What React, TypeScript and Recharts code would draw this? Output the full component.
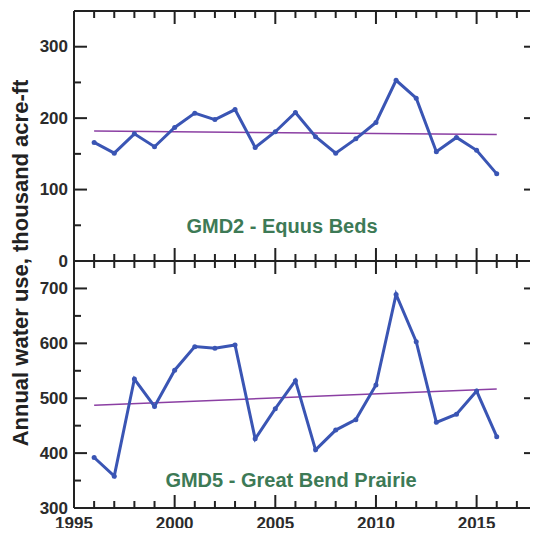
import React from 'react'
import { LineChart, Line, XAxis, YAxis, ReferenceLine } from 'recharts'

const years = [1996, 1997, 1998, 1999, 2000, 2001, 2002, 2003, 2004, 2005, 2006, 2007, 2008, 2009, 2010, 2011, 2012, 2013, 2014, 2015, 2016]
const gmd2Use = [166, 151, 178, 160, 187, 207, 198, 212, 159, 181, 208, 174, 151, 171, 194, 253, 228, 153, 173, 155, 122]
const gmd5Use = [392, 358, 535, 485, 551, 594, 591, 597, 426, 481, 532, 406, 442, 461, 524, 689, 603, 456, 471, 513, 430]
// trend line end points (1996, 2016)
const gmd2Trend = [182, 177]
const gmd5Trend = [487, 517]

const yearTicks = [1995, 1996, 1997, 1998, 1999, 2000, 2001, 2002, 2003, 2004, 2005, 2006, 2007, 2008, 2009, 2010, 2011, 2012, 2013, 2014, 2015, 2016, 2017, 2018]
const gmd2Ticks = [0, 50, 100, 150, 200, 250, 300, 350]
const gmd5Ticks = [300, 350, 400, 450, 500, 550, 600, 650, 700, 750]

const FONT = '"Liberation Sans", Arial, sans-serif'
const AXIS = '#222'
const BLUE = '#3a55b4'
const PURPLE = '#8b3fa3'
const GREEN = '#3d7a56'

const X_DOMAIN: [number, number] = [1995, 2018]
const CHART_W = 538
const PLOT_W = CHART_W - 74 - 1

const buildRows = (use: number[], trend: number[]) =>
  years.map((y, i) => ({
    year: y,
    use: use[i],
    trend: i === 0 ? trend[0] : i === years.length - 1 ? trend[1] : null,
  }))

const tickLen = (major: boolean) => (major ? 13 : 7)

// inward tick marks on all four sides, as segments in data units
const frameTicks = (domain: [number, number], ticks: number[], plotH: number) => {
  const xPer = (X_DOMAIN[1] - X_DOMAIN[0]) / PLOT_W
  const yPer = (domain[1] - domain[0]) / plotH
  const segs: { x: number; y: number }[][] = []
  ticks.forEach((t) => {
    if (t === domain[0] || t === domain[1]) return
    const len = tickLen(t % 100 === 0)
    segs.push([{ x: X_DOMAIN[0], y: t }, { x: X_DOMAIN[0] + len * xPer, y: t }])
    segs.push([{ x: X_DOMAIN[1] - len * xPer, y: t }, { x: X_DOMAIN[1], y: t }])
  })
  yearTicks.forEach((yr) => {
    if (yr === X_DOMAIN[0] || yr === X_DOMAIN[1]) return
    const len = tickLen(yr % 5 === 0)
    segs.push([{ x: yr, y: domain[1] }, { x: yr, y: domain[1] - len * yPer }])
    segs.push([{ x: yr, y: domain[0] }, { x: yr, y: domain[0] + len * yPer }])
  })
  return segs
}

const LeftLabel = (props: any) => {
  const v = props.payload.value
  if (v % 100 !== 0) return <g />
  return (
    <text x={props.x} y={props.y} textAnchor="end" dominantBaseline="central" fontFamily={FONT} fontWeight="bold" fontSize={17} fill="#2b2b2b">
      {v}
    </text>
  )
}

const YearLabel = (props: any) => {
  const v = props.payload.value
  if (v % 5 !== 0 || v > 2015) return <g />
  return (
    <text x={props.x} y={Number(props.y) + 15} textAnchor="middle" dominantBaseline="central" fontFamily={FONT} fontWeight="bold" fontSize={17} fill="#2b2b2b">
      {v}
    </text>
  )
}

interface PanelProps {
  rows: any[]
  domain: [number, number]
  ticks: number[]
  height: number
  marginTop: number
  xHeight: number
  plotH: number
  showYears: boolean
}

function Panel({ rows, domain, ticks, height, marginTop, xHeight, plotH, showYears }: PanelProps) {
  const segs = frameTicks(domain, ticks, plotH)
  return (
    <LineChart width={CHART_W} height={height} data={rows} margin={{ top: marginTop, right: 0, bottom: 0, left: 0 }}>
      <XAxis xAxisId="b" dataKey="year" type="number" domain={X_DOMAIN} ticks={yearTicks} interval={0}
        allowDataOverflow height={xHeight} tickLine={false} tickSize={0} tickMargin={0}
        tick={showYears ? YearLabel : false} axisLine={{ stroke: AXIS, strokeWidth: 2 }} />
      <XAxis xAxisId="t" orientation="top" dataKey="year" type="number" domain={X_DOMAIN} ticks={yearTicks} interval={0}
        allowDataOverflow height={1} tickLine={false} tick={false} axisLine={{ stroke: AXIS, strokeWidth: 2 }} />
      <YAxis yAxisId="l" type="number" domain={domain} ticks={ticks} interval={0} allowDataOverflow width={74}
        tickLine={false} tickSize={0} tickMargin={6} tick={LeftLabel} axisLine={{ stroke: AXIS, strokeWidth: 2 }} />
      <YAxis yAxisId="r" orientation="right" type="number" domain={domain} ticks={ticks} interval={0} allowDataOverflow width={1}
        tickLine={false} tick={false} axisLine={{ stroke: AXIS, strokeWidth: 2 }} />
      {segs.map((s, i) => (
        <ReferenceLine key={i} xAxisId="b" yAxisId="l" segment={s} stroke={AXIS} strokeWidth={2} ifOverflow="visible" />
      ))}
      <Line xAxisId="b" yAxisId="l" dataKey="trend" connectNulls stroke={PURPLE} strokeWidth={1.5} dot={false} isAnimationActive={false} />
      <Line xAxisId="b" yAxisId="l" dataKey="use" stroke={BLUE} strokeWidth={3}
        dot={{ r: 2.5, fill: BLUE, stroke: BLUE, strokeWidth: 0 }} isAnimationActive={false} />
    </LineChart>
  )
}

export default function App() {
  return (
    <div style={{ position: 'relative', width: 538, height: 536, overflow: 'hidden', margin: -8 }}>
      <svg width={538} height={536} style={{ position: 'absolute', left: 0, top: 0 }}>
        <text x={20} y={263} transform="rotate(-90 20 263)" textAnchor="middle" dominantBaseline="central"
          fontFamily={FONT} fontWeight="bold" fontSize={22} fill="#222">
          Annual water use, thousand acre-ft
        </text>
        <text x={282} y={226} textAnchor="middle" dominantBaseline="central" fontFamily={FONT} fontWeight="bold" fontSize={20} fill={GREEN}>
          GMD2 - Equus Beds
        </text>
        <text x={291} y={480} textAnchor="middle" dominantBaseline="central" fontFamily={FONT} fontWeight="bold" fontSize={20} fill={GREEN}>
          GMD5 - Great Bend Prairie
        </text>
      </svg>
      <Panel rows={buildRows(gmd2Use, gmd2Trend)} domain={[0, 350]} ticks={gmd2Ticks} height={274} marginTop={10} xHeight={13} plotH={250} showYears={false} />
      <div style={{ marginTop: -14 }}>
        <Panel rows={buildRows(gmd5Use, gmd5Trend)} domain={[300, 750]} ticks={gmd5Ticks} height={276} marginTop={0} xHeight={28} plotH={247} showYears />
      </div>
    </div>
  )
}
